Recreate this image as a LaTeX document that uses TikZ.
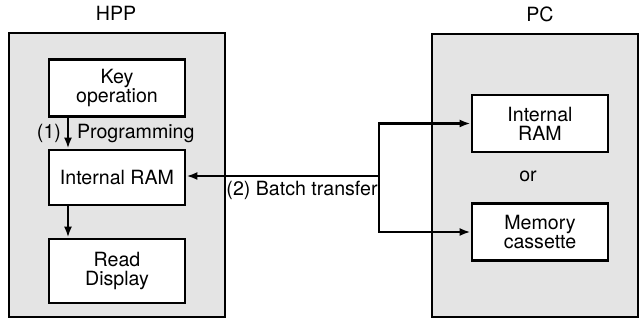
\documentclass[tikz,border=0pt]{standalone}
\usepackage{fontspec}
\setmainfont{TeX Gyre Heros}
\usepackage{tikz}
\usetikzlibrary{arrows.meta, positioning}
\definecolor{panelgray}{RGB}{228, 228, 228}

\begin{document}
\begin{tikzpicture}[x=0.5pt, y=-0.5pt,
    panel/.style={draw, line width=1.1pt, fill=panelgray, anchor=north west, inner sep=0pt},
    unitbox/.style={draw, line width=1.4pt, fill=white, minimum width=68pt, minimum height=28.5pt, align=center, font=\fontsize{9.8}{9.6}\selectfont, inner sep=0pt},
    flow/.style={line width=1.1pt, -{Latex[length=5.5pt, width=4pt]}},
    lbl/.style={font=\fontsize{9.8}{9.6}\selectfont}]
\useasboundingbox (0,0) rectangle (639,320);

% HPP side
\node[panel, minimum width=108pt, minimum height=142pt] (hpp) at (8,32) {};
\node[lbl] (hpptitle) at (116,13) {HPP};
\node[unitbox] (keyop) at (117,88) {Key\\operation};
\node[unitbox, minimum height=27.5pt] (hppram) at (117,177.5) {Internal RAM};
\node[unitbox, minimum height=32pt] (readdisp) at (117,271) {Read\\Display};

\draw[flow] (keyop.south -| 68,0) -- (hppram.north -| 68,0);
\draw[flow] (hppram.south -| 68,0) -- (readdisp.north -| 68,0);
\node[lbl, left] (num1) at (68,133) {(1)};
\node[lbl, right] (prog) at (70,133) {Programming};

% PC side
\node[panel, minimum width=103pt, minimum height=141.5pt] (pc) at (431,33) {};
\node[lbl] (pctitle) at (540,14) {PC};
\node[unitbox] (pcram) at (540,123.5) {Internal\\RAM};
\node[unitbox] (cassette) at (540,232) {Memory\\cassette};
\node[lbl] (ortext) at (528,176) {or};

% Batch transfer
\coordinate (split) at (379,176);
\draw[flow] (split) -- (split -| hppram.east);
\node[lbl] (batch) at (302,190) {(2) Batch transfer};
\draw[flow] (split) |- (pcram.west);
\draw[flow] (split) |- (cassette.west);
\end{tikzpicture}
\end{document}
